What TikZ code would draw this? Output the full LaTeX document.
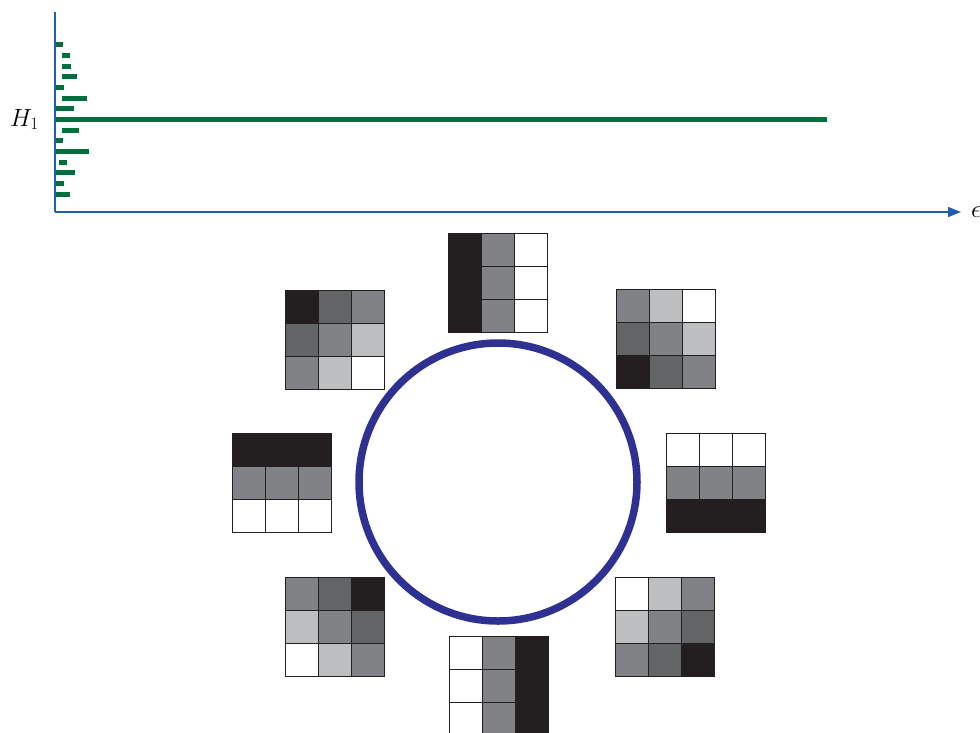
\documentclass[tikz,border=0pt]{standalone}
\usetikzlibrary{arrows.meta}
\definecolor{cK}{HTML}{231F20}
\definecolor{cD}{HTML}{636466}
\definecolor{cG}{HTML}{808285}
\definecolor{cL}{HTML}{BCBEC0}
\definecolor{cW}{HTML}{FFFFFF}
\definecolor{circblue}{HTML}{2E3192}
\definecolor{axisblue}{HTML}{1F5FAD}
\definecolor{bargreen}{HTML}{006F3C}
\newcommand\drawgrid[3]{%
  \foreach \c [count=\i from 0] in {#3} {%
    \pgfmathtruncatemacro\rr{\i/3}%
    \pgfmathtruncatemacro\cc{mod(\i,3)}%
    \filldraw[cellbox, fill=\c] ({#1+\cc*33},{#2+\rr*33}) rectangle ++(33,33);
  }%
}
\begin{document}
\begin{tikzpicture}[x=1pt,y=-1pt,
  cellbox/.style={draw=cK, line width=1pt},
  bar/.style={bargreen, line width=5pt},
  axis/.style={axisblue, line width=1.4pt},
  biglabel/.style={font=\fontsize{25}{30}\selectfont, inner sep=0pt}]
\useasboundingbox (0,0) rectangle (980,732);
% barcode
\foreach \a/\b/\y in {55/63/44.7,62/70/55.3,62/71.3/66,62/77/76.7,55/64.3/87.3,62/87/98,55/73.7/108.7,55/827/119.3,62/79/130,55/63/140.7,55/89/151.3,59/67.3/162,55/75.3/172.7,55/64.3/183.3,55/69.7/194}
  \draw[bar] (\a,\y) -- (\b,\y);
% axes
\coordinate (origin) at (55,212);
\coordinate (ytop) at (55,12);
\coordinate (xend) at (961,212);
\draw[axis] (ytop) -- (origin);
\draw[axis, -{Triangle[length=13pt,width=10pt]}] (origin) -- (xend);
\node[biglabel, anchor=base west] (hlabel) at (10,126) {$H_1$};
\node[biglabel, anchor=west] (elabel) at (971,212) {$\epsilon$};
% circle
\node[circle, draw=circblue, line width=7.5pt, minimum size=278pt, inner sep=0pt, outer sep=0pt] (ring) at (498,482) {};
% grids
\drawgrid{448.5}{233}{cK,cG,cW,cK,cG,cW,cK,cG,cW}
\drawgrid{616}{289.5}{cG,cL,cW,cD,cG,cL,cK,cD,cG}
\drawgrid{666}{433.5}{cW,cW,cW,cG,cG,cG,cK,cK,cK}
\drawgrid{615}{577}{cW,cL,cG,cL,cG,cD,cG,cD,cK}
\drawgrid{449}{636}{cW,cG,cK,cW,cG,cK,cW,cG,cK}
\drawgrid{285}{577.5}{cG,cD,cK,cL,cG,cD,cW,cL,cG}
\drawgrid{285}{290}{cK,cD,cG,cD,cG,cL,cG,cL,cW}
\drawgrid{232}{433.5}{cK,cK,cK,cG,cG,cG,cW,cW,cW}
\end{tikzpicture}
\end{document}
